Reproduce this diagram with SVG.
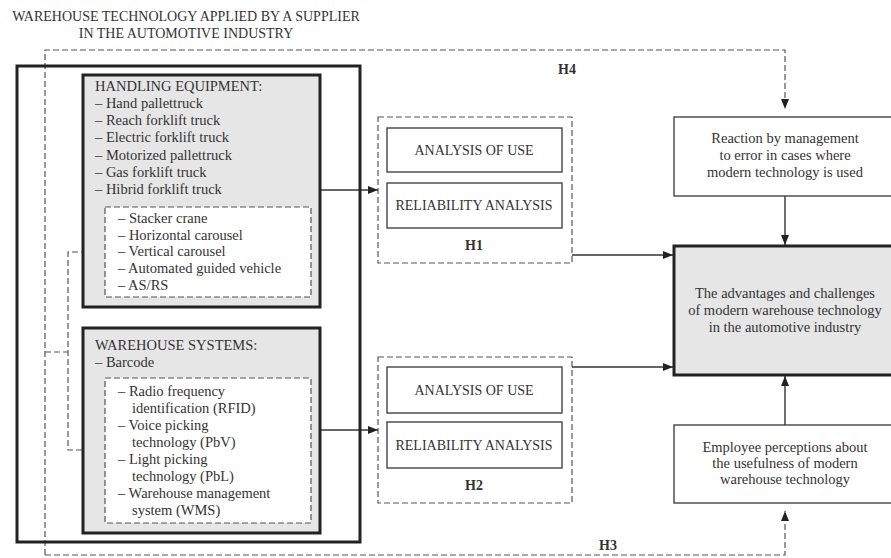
<svg xmlns="http://www.w3.org/2000/svg" width="891" height="558" viewBox="0 0 891 558">
<defs>
<style>
text{font-family:"Liberation Serif","Times New Roman",serif;font-size:14.5px;fill:#333}
.c{text-anchor:middle}
.b{font-weight:bold;font-size:14px}
.s{font-size:14px}
.thick{fill:none;stroke:#222;stroke-width:3}
.grey{fill:#e6e6e6;stroke:#222;stroke-width:3}
.dash{fill:#fff;stroke:#555;stroke-width:1.2;stroke-dasharray:6 3}
.dl{fill:none;stroke:#555;stroke-width:1.2;stroke-dasharray:6 3}
.box{fill:#fff;stroke:#444;stroke-width:1.4}
.ln{fill:none;stroke:#333;stroke-width:1.4}
</style>
<marker id="ah" viewBox="0 0 10 8" refX="10" refY="4" markerWidth="10" markerHeight="8" markerUnits="userSpaceOnUse" orient="auto">
<path d="M0,0 L10,4 L0,8 z" fill="#222"/>
</marker>
</defs>
<rect width="891" height="558" fill="#fff"/>

<g id="title">
<text class="c s" x="186" y="21">WAREHOUSE TECHNOLOGY APPLIED BY A SUPPLIER</text>
<text class="c s" x="186" y="38">IN THE AUTOMOTIVE INDUSTRY</text>
</g>

<g id="connectors">
<path class="dl" d="M45,555 V50 H785 V109" marker-end="url(#ah)"/>
<path class="dl" d="M45,555 H785 V511" marker-end="url(#ah)"/>
<path class="dl" d="M105,252 H68 V450 H105"/>
<path class="dl" d="M45,352 H68"/>
<path class="ln" d="M320,190 H378" marker-end="url(#ah)"/>
<path class="ln" d="M320,430 H378" marker-end="url(#ah)"/>
<path class="ln" d="M572,255 H673" marker-end="url(#ah)"/>
<path class="ln" d="M572,367 H673" marker-end="url(#ah)"/>
<path class="ln" d="M785,196 V245" marker-end="url(#ah)"/>
<path class="ln" d="M785,425 V376" marker-end="url(#ah)"/>
<text class="b" x="558" y="74">H4</text>
<text class="b" x="599" y="550">H3</text>
</g>

<g id="technology">
<rect class="thick" x="17" y="66" width="343" height="476"/>
</g>

<g id="handling">
<rect class="grey" x="83" y="75" width="237" height="232"/>
<text x="95" y="91">HANDLING EQUIPMENT:</text>
<text x="95" y="108">– Hand pallettruck</text>
<text x="95" y="125">– Reach forklift truck</text>
<text x="95" y="142">– Electric forklift truck</text>
<text x="95" y="160">– Motorized pallettruck</text>
<text x="95" y="177">– Gas forklift truck</text>
<text x="95" y="194">– Hibrid forklift truck</text>
</g>

<g id="handling-auto">
<rect class="dash" x="105" y="207" width="206" height="90"/>
<text x="118" y="223">– Stacker crane</text>
<text x="118" y="240">– Horizontal carousel</text>
<text x="118" y="256">– Vertical carousel</text>
<text x="118" y="273">– Automated guided vehicle</text>
<text x="118" y="290">– AS/RS</text>
</g>

<g id="systems">
<rect class="grey" x="83" y="328" width="237" height="205"/>
<text x="95" y="350">WAREHOUSE SYSTEMS:</text>
<text x="95" y="367">– Barcode</text>
</g>

<g id="systems-auto">
<rect class="dash" x="105" y="378" width="206" height="145"/>
<text x="118" y="396">– Radio frequency</text>
<text x="132" y="413">identification (RFID)</text>
<text x="118" y="430">– Voice picking</text>
<text x="132" y="447">technology (PbV)</text>
<text x="118" y="464">– Light picking</text>
<text x="132" y="481">technology (PbL)</text>
<text x="118" y="498">– Warehouse management</text>
<text x="132" y="515">system (WMS)</text>
</g>

<g id="h1">
<rect class="dash" x="378" y="117" width="194" height="146"/>
<rect class="box" x="387" y="128" width="175" height="44"/>
<text class="c s" x="474" y="155">ANALYSIS OF USE</text>
<rect class="box" x="387" y="183" width="175" height="45"/>
<text class="c s" x="474" y="210">RELIABILITY ANALYSIS</text>
<text class="c b" x="474" y="250">H1</text>
</g>

<g id="h2">
<rect class="dash" x="378" y="357" width="194" height="146"/>
<rect class="box" x="387" y="367" width="175" height="46"/>
<text class="c s" x="474" y="395">ANALYSIS OF USE</text>
<rect class="box" x="387" y="422" width="175" height="46"/>
<text class="c s" x="474" y="450">RELIABILITY ANALYSIS</text>
<text class="c b" x="474" y="490">H2</text>
</g>

<g id="reaction">
<rect class="box" x="674" y="117" width="230" height="79"/>
<text class="c" x="785" y="143">Reaction by management</text>
<text class="c" x="785" y="160">to error in cases where</text>
<text class="c" x="785" y="177">modern technology is used</text>
</g>

<g id="outcome">
<rect class="grey" x="674" y="246" width="230" height="129"/>
<text class="c" x="785" y="298">The advantages and challenges</text>
<text class="c" x="785" y="315">of modern warehouse technology</text>
<text class="c" x="785" y="332">in the automotive industry</text>
</g>

<g id="employee">
<rect class="box" x="674" y="425" width="230" height="78"/>
<text class="c" x="785" y="452">Employee perceptions about</text>
<text class="c" x="785" y="468">the usefulness of modern</text>
<text class="c" x="785" y="484">warehouse technology</text>
</g>
</svg>
